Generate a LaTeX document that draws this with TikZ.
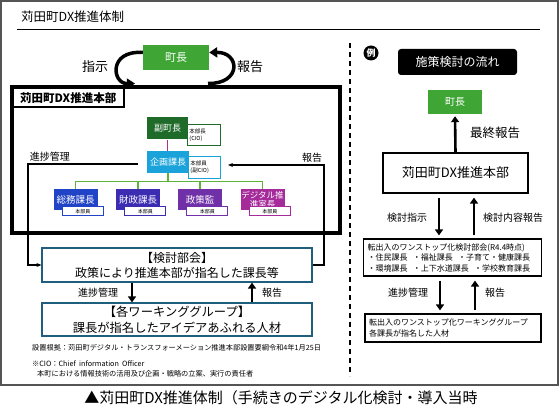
\documentclass[tikz,border=0pt]{standalone}
\usepackage{fontspec}
\setmainfont{Noto Sans CJK JP}
\usetikzlibrary{arrows.meta,calc}
\definecolor{gmayor}{HTML}{3FA535}
\definecolor{gvice}{HTML}{1F6B2A}
\definecolor{ckikaku}{HTML}{1AA3DB}
\definecolor{bsomu}{HTML}{2143C6}
\definecolor{bzaisei}{HTML}{3C2CB2}
\definecolor{pseisaku}{HTML}{7030A8}
\definecolor{mdigi}{HTML}{A52A9A}
\definecolor{tealb}{HTML}{1F5E7C}
\definecolor{treeg}{HTML}{5DB33A}
\definecolor{magl}{HTML}{B03090}
\definecolor{frameg}{HTML}{555555}
\newcommand\fsz[1]{\fontsize{#1}{#1}\selectfont}
\begin{document}
\begin{tikzpicture}[x=1pt,y=-1pt,
  thinarrow/.style={line width=1.1pt,-{Stealth[length=5pt,width=4pt]}},
  thickarrow/.style={line width=2.6pt,-{Triangle[length=6pt,width=8pt]}},
  curvy/.style={line width=3.5pt,-{Triangle[length=8pt,width=10pt]}},
  solid box/.style={inner sep=0pt,text=white,align=center},
  note/.style={fill=white,line width=0.9pt,anchor=north west,inner xsep=2pt,inner ysep=1pt,align=left,font=\fontsize{5.5}{7}\selectfont},
  memberlbl/.style={fill=white,line width=0.9pt,anchor=north west,inner sep=0pt,minimum width=41,minimum height=9,font=\fsz{5}},
  divbox/.style={solid box,minimum width=44,minimum height=21,font=\fsz{9.5}},
  lbl/.style={inner sep=0pt,font=\fsz{10}},
  plainbox/.style={draw,line width=1.2pt,inner sep=0pt,align=center}
]
\useasboundingbox (0,0) rectangle (560,406);
% outer frame and title
\draw[frameg,line width=1.5pt] (1,1) rectangle (558,385);
\node[anchor=west,inner sep=0pt,font=\fsz{12.5}] (title) at (21,17) {苅田町DX推進体制};
\draw[line width=1.2pt] (17,29.5) -- (540,29.5);
\node[inner sep=0pt,font=\fsz{15}] (caption) at (281,398) {▲苅田町DX推進体制（手続きのデジタル化検討・導入当時};

% ===== left panel =====
\node[solid box,fill=gmayor,minimum width=66,minimum height=25,font=\fsz{11}] (mayor) at (176,57.5) {町長};
\node[inner sep=0pt,font=\fsz{13}] (shiji) at (95,67) {指示};
\node[inner sep=0pt,font=\fsz{13}] (hokoku1) at (250,67) {報告};

\node[draw,line width=4pt,minimum width=328,minimum height=146,inner sep=0pt] (hq) at (176,160.5) {};
\node[draw,line width=1.5pt,fill=white,anchor=north west,minimum width=111,minimum height=19,inner sep=0pt,font=\fsz{11.5}\bfseries] (hqlabel) at (12,87.5) {苅田町DX推進本部};

\draw[curvy] ([yshift=5pt]mayor.west) .. controls (108,50) and (112,84) .. ([xshift=125pt,yshift=2pt]hq.north west);
\draw[curvy] ([xshift=198pt,yshift=2pt]hq.north west) .. controls (242,84) and (240,52) .. ([yshift=5pt]mayor.east);

\node[note,draw=gvice,text width=29pt,minimum height=21] (vicenote) at (187,124) {本部長\\(CIO)};
\node[solid box,fill=gvice,minimum width=41,minimum height=22,font=\fsz{9}] (vice) at (167.5,128.5) {副町長};
\node[note,draw=ckikaku,text width=28pt,minimum height=22] (kikakunote) at (188,156) {本部員\\(副CIO)};
\node[solid box,fill=ckikaku,minimum width=42,minimum height=22,font=\fsz{9}] (kikaku) at (168,162) {企画課長};
\draw[magl,line width=1.5pt] (vice.south) -- (vice.south |- kikaku.north);

\node[divbox,fill=bsomu] (somu) at (75.5,199.5) {総務課長};
\node[divbox,fill=bzaisei] (zaisei) at (138,199.5) {財政課長};
\node[divbox,fill=pseisaku] (seisaku) at (200,199.5) {政策監};
\node[divbox,fill=mdigi,font=\fontsize{8.5}{9}\selectfont] (digi) at (262.5,199.5) {デジタル推\\進室長};
\foreach \b/\c in {somu/bsomu,zaisei/bzaisei,seisaku/pseisaku,digi/mdigi}{
  \node[memberlbl,draw=\c] (\b lbl) at ([xshift=8.5pt,yshift=4pt]\b.south west) {本部員};
}
\draw[treeg,line width=1.2pt] (kikaku.south) -- ++(0,9);
\draw[treeg,line width=1.2pt] (somu.north) -- ++(0,-7) -| (digi.north);
\draw[treeg,line width=1.2pt] (zaisei.north) -- ++(0,-7);
\draw[treeg,line width=1.2pt] (seisaku.north) -- ++(0,-7);

\node[plainbox,draw=tealb,minimum width=270,minimum height=34,font=\fontsize{12}{15}\selectfont] (bukai) at (177,265) {【検討部会】\\政策により推進本部が指名した課長等};
\node[plainbox,draw=tealb,minimum width=270,minimum height=33,font=\fontsize{12.3}{16}\selectfont] (wg) at (177,319.5) {【各ワーキンググループ】\\課長が指名したアイデアあふれる人材};

\node[lbl] (pmlabel) at (50,157) {進捗管理};
\coordinate (pmstart) at (138,164);
\coordinate (pmcorner) at (28,164);
\draw[thinarrow] (pmstart) -- (pmcorner) |- (bukai.west);
\node[lbl] (rplabel) at (312,158) {報告};
\coordinate (rpend) at (228,165);
\coordinate (rpcorner) at (324,165);
\draw[thinarrow] (bukai.east) -| (rpcorner) -- (rpend);

\draw[thickarrow] ([xshift=-45pt]bukai.south) -- ([xshift=-45pt]wg.north);
\draw[thickarrow] ([xshift=75pt]wg.north) -- ([xshift=75pt]bukai.south);
\node[lbl] (pm2) at (98,293) {進捗管理};
\node[lbl] (rp2) at (272,293) {報告};

\node[anchor=west,inner sep=0pt,font=\fsz{7.2}] (fn1) at (32,348) {設置根拠：苅田町デジタル・トランスフォーメーション推進本部設置要綱令和4年1月25日};
\node[anchor=west,inner sep=0pt,font=\fsz{7.2}] (fn2) at (32,364) {※CIO：Chief\ \ information\ \ Officer};
\node[anchor=west,inner sep=0pt,font=\fsz{7.2}] (fn3) at (37,374) {本町における情報技術の活用及び企画・戦略の立案、実行の責任者};

% separator
\draw[line width=1.4pt,dash pattern=on 5pt off 4pt] (350,43) -- (350,376);

% ===== right panel =====
\node[circle,fill=black,text=white,minimum size=15,inner sep=0pt,font=\fsz{9}\bfseries] (rei) at (371,53) {例};
\node[fill=black,rounded corners=3pt,text=white,minimum width=119,minimum height=26,inner sep=0pt,font=\fsz{12}] (flow) at (457.5,62) {施策検討の流れ};
\node[solid box,fill=gmayor,minimum width=54,minimum height=24,font=\fsz{10}] (rmayor) at (455,102) {町長};
\node[plainbox,minimum width=145,minimum height=40,font=\fsz{13}] (rhq) at (455.5,173) {苅田町DX推進本部};
\draw[thickarrow,shorten <=0pt,shorten >=2pt] (rhq.north) -- (rmayor.south);
\node[inner sep=0pt,font=\fsz{12.5}] (final) at (495,133) {最終報告};

\node[plainbox,minimum height=37,text width=170pt,inner xsep=4pt,align=left,font=\fontsize{8}{10.5}\selectfont] (rbukai) at (452.5,257.5) {転出入のワンストップ化検討部会(R4.4時点)\\・住民課長\ \ ・福祉課長\ \ ・子育て・健康課長\\・環境課長\ \ ・上下水道課長\ \ ・学校教育課長};
\node[plainbox,minimum height=28,text width=168pt,inner xsep=4pt,align=left,font=\fontsize{8}{11}\selectfont] (rwg) at (453,328) {転出入のワンストップ化ワーキンググループ\\各課長が指名した人材};

\coordinate (ra1) at ([xshift=-16.5pt]rhq.south);
\coordinate (ra2) at ([xshift=18.5pt]rhq.south);
\draw[thickarrow,shorten <=4pt,shorten >=3pt] (ra1) -- (ra1 |- rbukai.north);
\draw[thickarrow,shorten <=3pt,shorten >=4pt] (ra2 |- rbukai.north) -- (ra2);
\node[lbl] (kshiji) at (407,218) {検討指示};
\node[lbl] (knaiyo) at (513,218) {検討内容報告};

\coordinate (rb1) at ([xshift=-12.5pt]rbukai.south);
\coordinate (rb2) at ([xshift=22.5pt]rbukai.south);
\draw[thickarrow,shorten <=4pt,shorten >=3pt] (rb1) -- (rb1 |- rwg.north);
\draw[thickarrow,shorten <=3pt,shorten >=4pt] (rb2 |- rwg.north) -- (rb2);
\node[lbl] (rpm) at (408,293) {進捗管理};
\node[lbl] (rrp) at (495,293) {報告};
\end{tikzpicture}
\end{document}
